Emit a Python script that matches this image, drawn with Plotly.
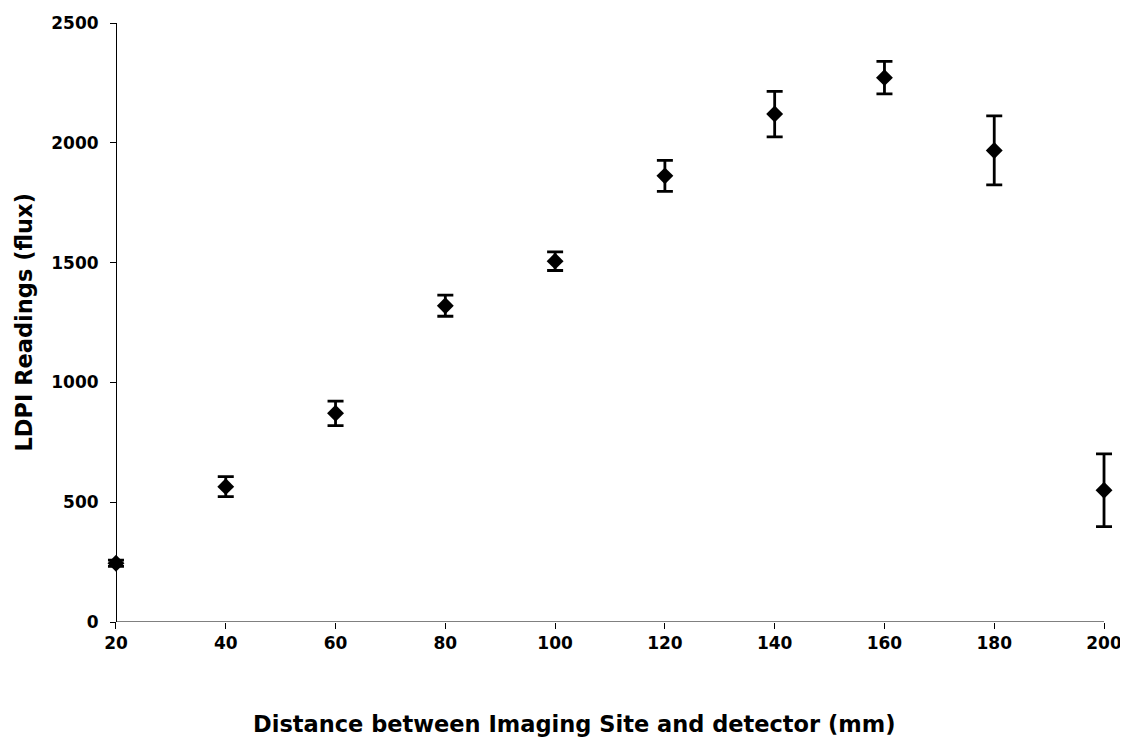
import plotly.graph_objects as go

distance_mm = [20, 40, 60, 80, 100, 120, 140, 160, 180, 200]
ldpi_flux = [245, 565, 871, 1320, 1506, 1862, 2120, 2272, 1968, 550]
error_flux = [13, 42, 51, 44, 39, 65, 95, 68, 144, 152]

x_ticks = [20, 40, 60, 80, 100, 120, 140, 160, 180, 200]
y_ticks = [0, 500, 1000, 1500, 2000, 2500]
x_range = [18, 202]
y_range = [0, 2500]

font_family = "DejaVu Sans"

fig = go.Figure()
fig.add_trace(go.Scatter(
    x=distance_mm,
    y=ldpi_flux,
    mode="markers",
    marker=dict(symbol="diamond", size=13, color="black"),
    error_y=dict(type="data", array=error_flux, visible=True,
                 color="black", thickness=2.8, width=8),
    cliponaxis=False,
    showlegend=False,
))

# x axis baseline spanning the tick range
fig.add_shape(type="line", xref="x", yref="y",
              x0=x_ticks[0], x1=x_ticks[-1], y0=y_range[0], y1=y_range[0],
              line=dict(color="black", width=1), layer="below")

# page body has an 8px default margin, so the figure is 8px smaller
fig.update_layout(
    width=1120, height=732,
    margin=dict(l=97, r=13, t=15, b=118, autoexpand=False),
    paper_bgcolor="white", plot_bgcolor="white",
    font=dict(family=font_family, color="black"),
)
fig.update_xaxes(
    range=x_range, tickvals=x_ticks, ticktext=[str(v) for v in x_ticks],
    showline=False,
    ticks="outside", ticklen=6, tickcolor="black", tickwidth=1,
    showgrid=False, zeroline=False, automargin=False,
    tickfont=dict(family=font_family, size=17, weight="bold"),
)
fig.update_yaxes(
    range=y_range, tickvals=y_ticks, ticktext=[str(v) for v in y_ticks],
    anchor="free",
    position=(x_ticks[0] - x_range[0]) / (x_range[1] - x_range[0]),
    showline=True, linecolor="black", linewidth=1,
    ticks="outside", ticklen=6, tickcolor="black", tickwidth=1,
    ticklabelstandoff=8,
    showgrid=False, zeroline=False, automargin=False,
    tickfont=dict(family=font_family, size=17, weight="bold"),
)

fig.add_annotation(
    text="<b>Distance between Imaging Site and detector (mm)</b>",
    xref="paper", yref="paper", x=0.4644, y=0,
    xanchor="center", yanchor="middle", yshift=-102,
    showarrow=False, font=dict(family=font_family, size=22.5, color="black"),
)
fig.add_annotation(
    text="<b>LDPI Readings (flux)</b>",
    xref="paper", yref="paper", x=0, y=0.5,
    xanchor="center", yanchor="middle", xshift=-82, textangle=-90,
    showarrow=False, font=dict(family=font_family, size=22.5, color="black"),
)

fig.write_html("out.html")
